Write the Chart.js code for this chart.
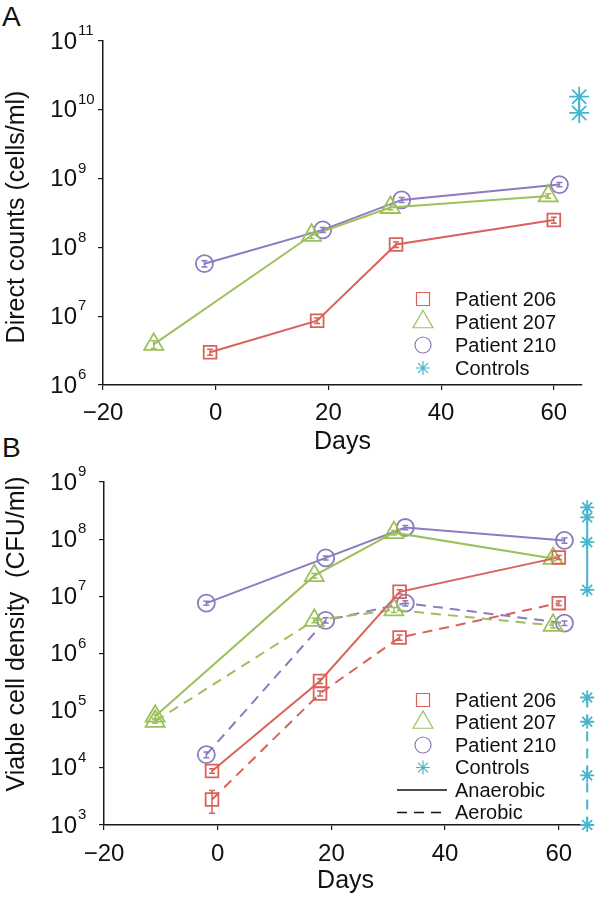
<!DOCTYPE html>
<html lang="en">
<head>
<meta charset="UTF-8" />
<title>Direct counts and viable cell density</title>
<script src="https://cdn.jsdelivr.net/npm/chart.js@4.4.1/dist/chart.umd.min.js"></script>
<style>
  body { margin: 0; background: #fff; font-family: 'Liberation Sans', Arial, sans-serif; }
  .wrap { position: relative; width: 600px; height: 898px; overflow: hidden; }
  canvas { position: absolute; left: 0; }
  #chartA { top: 0; }
  #chartB { top: 460px; }
  .panel { position: absolute; left: 2px; font-size: 28px; line-height: 1; color: #111; }
</style>
</head>
<body>
<div class="wrap">
  <div class="panel" style="top:3px">A</div>
  <div class="panel" style="top:434px">B</div>
  <canvas id="chartA" width="600" height="460"></canvas>
  <canvas id="chartB" width="600" height="438"></canvas>
</div>
<script>
// ---- data ----
const dayTicks = [-20, 0, 20, 40, 60];
const powTicksA = [1e6, 1e7, 1e8, 1e9, 1e10, 1e11];
const powTicksB = [1e3, 1e4, 1e5, 1e6, 1e7, 1e8, 1e9];
const patientLabels = ['Patient 206', 'Patient 207', 'Patient 210', 'Controls'];
const modeLabels = ['Anaerobic', 'Aerobic'];

// A: direct counts (cells/ml)
const dayA206 = [-1, 18, 32, 60];
const cntA206 = [3.0e6, 8.6e6, 1.1e8, 2.5e8];
const errA206 = [0.3e6, 0.8e6, 0.1e8, 0.25e8];
const dayA207 = [-11, 17, 31, 59];
const cntA207 = [3.9e6, 1.5e8, 3.8e8, 5.6e8];
const errA207 = [0.5e6, 0.15e8, 0.3e8, 0.4e8];
const dayA210 = [-2, 19, 33, 61];
const cntA210 = [5.8e7, 1.8e8, 4.9e8, 8.2e8];
const errA210 = [0.6e7, 0.15e8, 0.4e8, 0.6e8];
const dayCtrlA = [64.5, 64.5];
const cntCtrlA = [1.55e10, 9.0e9];

// B: viable cell density (CFU/ml)
const dayB206 = [-1, 18, 32, 60];
const anB206 = [8.8e3, 3.3e5, 1.2e7, 4.8e7];
const anErrB206 = [0.8e3, 0.3e5, 1.0e6, 4.0e6];
const aeB206 = [2.8e3, 2.0e5, 1.9e6, 7.6e6];
const aeErrB206 = [1.2e3, 0.2e5, 0.2e6, 0.7e6];
const dayB207 = [-11, 17, 31, 59];
const anB207 = [8.0e4, 2.3e7, 1.3e8, 4.6e7];
const anErrB207 = [0.6e4, 2.0e6, 1.2e7, 4.0e6];
const aeB207 = [6.5e4, 3.8e6, 5.8e6, 3.1e6];
const aeErrB207 = [0.5e4, 0.35e6, 0.6e6, 0.3e6];
const dayB210 = [-2, 19, 33, 61];
const anB210 = [7.6e6, 4.7e7, 1.6e8, 9.5e7];
const anErrB210 = [0.6e6, 4.0e6, 1.4e7, 1.0e7];
const aeB210 = [1.7e4, 3.8e6, 7.6e6, 3.4e6];
const aeErrB210 = [0.2e4, 0.4e6, 0.8e6, 0.3e6];
const dayCtrlAn = [65, 65, 65, 65];
const ctrlAnB = [3.6e8, 2.4e8, 8.9e7, 1.3e7];
const dayCtrlAe = [65, 65, 65, 65];
const ctrlAeB = [1.7e5, 6.4e4, 7.4e3, 1.0e3];

// ---- styling ----
const RED = '#d9625a', GREEN = '#9cc15b', PURPLE = '#8b7bbf', CYAN = '#45b5d0';
const INK = '#111', AXIS = '#1a1a1a';
const FONT = 'Liberation Sans';
const DASH = [10, 7];

const pts = (xs, ys) => xs.map((x, i) => ({ x: x, y: ys[i] }));

function series(label, xs, ys, err, color, style, r, dashed) {
  return {
    label: label,
    data: pts(xs, ys),
    err: err,
    borderColor: color,
    borderWidth: 2,
    borderDash: dashed ? DASH : [],
    pointStyle: style,
    pointRadius: r,
    pointBorderColor: color,
    pointBackgroundColor: 'rgba(0,0,0,0)',
    pointBorderWidth: 1.8,
    tension: 0,
    fill: false,
    spanGaps: true,
    clip: false
  };
}

// "10" with a raised exponent for each power tick
const powerLabels = {
  id: 'powerLabels',
  afterDraw(chart, args, o) {
    const ctx = chart.ctx, ys = chart.scales.y;
    ctx.save();
    ctx.fillStyle = INK;
    ctx.textBaseline = 'middle';
    ys.ticks.forEach(t => {
      const py = ys.getPixelForValue(t.value);
      ctx.font = '24px "' + FONT + '"';
      ctx.textAlign = 'right';
      ctx.fillText('10', o.x, py + 1);
      ctx.font = '15px "' + FONT + '"';
      ctx.textAlign = 'left';
      ctx.fillText(String(Math.round(Math.log10(t.value))), o.x + 1, py - 10);
    });
    ctx.restore();
  }
};

const errorBars = {
  id: 'errorBars',
  afterDatasetsDraw(chart) {
    const ctx = chart.ctx, xs = chart.scales.x, ys = chart.scales.y;
    chart.data.datasets.forEach(ds => {
      if (!ds.err) return;
      ctx.save();
      ctx.strokeStyle = ds.borderColor;
      ctx.lineWidth = 1.5;
      ds.data.forEach((p, i) => {
        const e = ds.err[i];
        if (!e) return;
        const px = xs.getPixelForValue(p.x);
        const y1 = ys.getPixelForValue(p.y - e), y2 = ys.getPixelForValue(p.y + e);
        ctx.beginPath();
        ctx.moveTo(px, y1); ctx.lineTo(px, y2);
        ctx.moveTo(px - 3, y1); ctx.lineTo(px + 3, y1);
        ctx.moveTo(px - 3, y2); ctx.lineTo(px + 3, y2);
        ctx.stroke();
      });
      ctx.restore();
    });
  }
};

const sideLegend = {
  id: 'sideLegend',
  afterDraw(chart, args, o) {
    const ctx = chart.ctx;
    ctx.save();
    o.items.forEach(it => {
      ctx.strokeStyle = it.color;
      ctx.fillStyle = 'rgba(0,0,0,0)';
      if (it.dash) {
        ctx.lineWidth = 1.6;
        ctx.setLineDash(it.dash);
        ctx.beginPath();
        ctx.moveTo(397, it.y); ctx.lineTo(447, it.y);
        ctx.stroke();
        ctx.setLineDash([]);
      } else {
        ctx.lineWidth = 1.2;
        Chart.helpers.drawPoint(ctx, { pointStyle: it.style, radius: it.r, rotation: 0, borderWidth: 1.2 }, 423, it.y);
      }
      ctx.fillStyle = INK;
      ctx.font = '20px "' + FONT + '"';
      ctx.textAlign = 'left';
      ctx.textBaseline = 'middle';
      ctx.fillText(it.label, 455, it.y + 1);
    });
    ctx.restore();
  }
};

const yTitle = {
  id: 'yTitle',
  afterDraw(chart, args, o) {
    const ctx = chart.ctx;
    ctx.save();
    ctx.translate(o.x, o.y);
    ctx.rotate(-Math.PI / 2);
    ctx.fillStyle = INK;
    ctx.font = '25px "' + FONT + '"';
    ctx.textAlign = 'center';
    ctx.textBaseline = 'middle';
    ctx.fillText(o.text, 0, 0);
    ctx.restore();
  }
};

function makeChart(id, datasets, cfg) {
  return new Chart(document.getElementById(id), {
    type: 'line',
    data: { datasets: datasets },
    plugins: [errorBars, powerLabels, sideLegend, yTitle],
    options: {
      responsive: false,
      animation: false,
      events: [],
      layout: { padding: { left: 0, top: cfg.top, right: 600 - cfg.right, bottom: 0 } },
      plugins: {
        legend: { display: false },
        tooltip: { enabled: false },
        powerLabels: { x: 77 },
        sideLegend: { items: cfg.legend },
        yTitle: cfg.yTitle
      },
      scales: {
        x: {
          type: 'linear', min: -20, max: 65,
          afterBuildTicks: s => { s.ticks = dayTicks.map(v => ({ value: v })); },
          afterFit: s => { s.height = cfg.height - cfg.bottom; },
          grid: { drawOnChartArea: false, drawTicks: true, tickLength: 5, color: AXIS, lineWidth: 1.2 },
          border: { color: AXIS, width: 1.5 },
          ticks: {
            color: INK, font: { family: FONT, size: 24 }, padding: cfg.tickPad,
            maxRotation: 0, autoSkip: false,
            callback: v => v < 0 ? '\u2212' + Math.abs(v) : String(v)
          },
          title: {
            display: true, text: 'Days', color: INK,
            font: { family: FONT, size: 25 }, padding: { top: 0, bottom: cfg.titlePad }
          }
        },
        y: {
          type: 'logarithmic', min: cfg.yTicks[0], max: cfg.yTicks[cfg.yTicks.length - 1],
          afterBuildTicks: s => { s.ticks = cfg.yTicks.map(v => ({ value: v })); },
          afterFit: s => { s.width = cfg.left; },
          grid: { drawOnChartArea: false, drawTicks: true, tickLength: 5, color: AXIS, lineWidth: 1.2 },
          border: { color: AXIS, width: 1.5 },
          ticks: { display: false }
        }
      }
    }
  });
}

makeChart('chartA', [
  series(patientLabels[0], dayA206, cntA206, errA206, RED, 'rect', 9, false),
  series(patientLabels[1], dayA207, cntA207, errA207, GREEN, 'triangle', 11, false),
  series(patientLabels[2], dayA210, cntA210, errA210, PURPLE, 'circle', 8.5, false),
  series(patientLabels[3], dayCtrlA, cntCtrlA, null, CYAN, 'star', 10, false)
], {
  height: 460, left: 103, top: 41, right: 582, bottom: 385,
  tickPad: 9, titlePad: 3, yTicks: powTicksA,
  yTitle: { text: 'Direct counts (cells/ml)', x: 17, y: 217 },
  legend: [
    { label: patientLabels[0], color: RED, style: 'rect', r: 9.2, y: 299 },
    { label: patientLabels[1], color: GREEN, style: 'triangle', r: 11.5, y: 322 },
    { label: patientLabels[2], color: PURPLE, style: 'circle', r: 8, y: 345 },
    { label: patientLabels[3], color: CYAN, style: 'star', r: 7, y: 368 }
  ]
});

makeChart('chartB', [
  series(patientLabels[0] + ' ' + modeLabels[0], dayB206, anB206, anErrB206, RED, 'rect', 9, false),
  series(patientLabels[0] + ' ' + modeLabels[1], dayB206, aeB206, aeErrB206, RED, 'rect', 9, true),
  series(patientLabels[1] + ' ' + modeLabels[0], dayB207, anB207, anErrB207, GREEN, 'triangle', 11, false),
  series(patientLabels[1] + ' ' + modeLabels[1], dayB207, aeB207, aeErrB207, GREEN, 'triangle', 11, true),
  series(patientLabels[2] + ' ' + modeLabels[0], dayB210, anB210, anErrB210, PURPLE, 'circle', 8.5, false),
  series(patientLabels[2] + ' ' + modeLabels[1], dayB210, aeB210, aeErrB210, PURPLE, 'circle', 8.5, true),
  series(patientLabels[3] + ' ' + modeLabels[0], dayCtrlAn, ctrlAnB, null, CYAN, 'star', 7, false),
  series(patientLabels[3] + ' ' + modeLabels[1], dayCtrlAe, ctrlAeB, null, CYAN, 'star', 7, true)
], {
  height: 438, left: 104, top: 22, right: 591, bottom: 365,
  tickPad: 10, titlePad: 2, yTicks: powTicksB,
  yTitle: { text: 'Viable cell density  (CFU/ml)', x: 17, y: 174 },
  legend: [
    { label: patientLabels[0], color: RED, style: 'rect', r: 9.2, y: 240 },
    { label: patientLabels[1], color: GREEN, style: 'triangle', r: 11.5, y: 262.5 },
    { label: patientLabels[2], color: PURPLE, style: 'circle', r: 8, y: 285 },
    { label: patientLabels[3], color: CYAN, style: 'star', r: 7, y: 307.5 },
    { label: modeLabels[0], color: INK, dash: [], y: 330 },
    { label: modeLabels[1], color: INK, dash: DASH, y: 352.5 }
  ]
});
</script>
</body>
</html>
